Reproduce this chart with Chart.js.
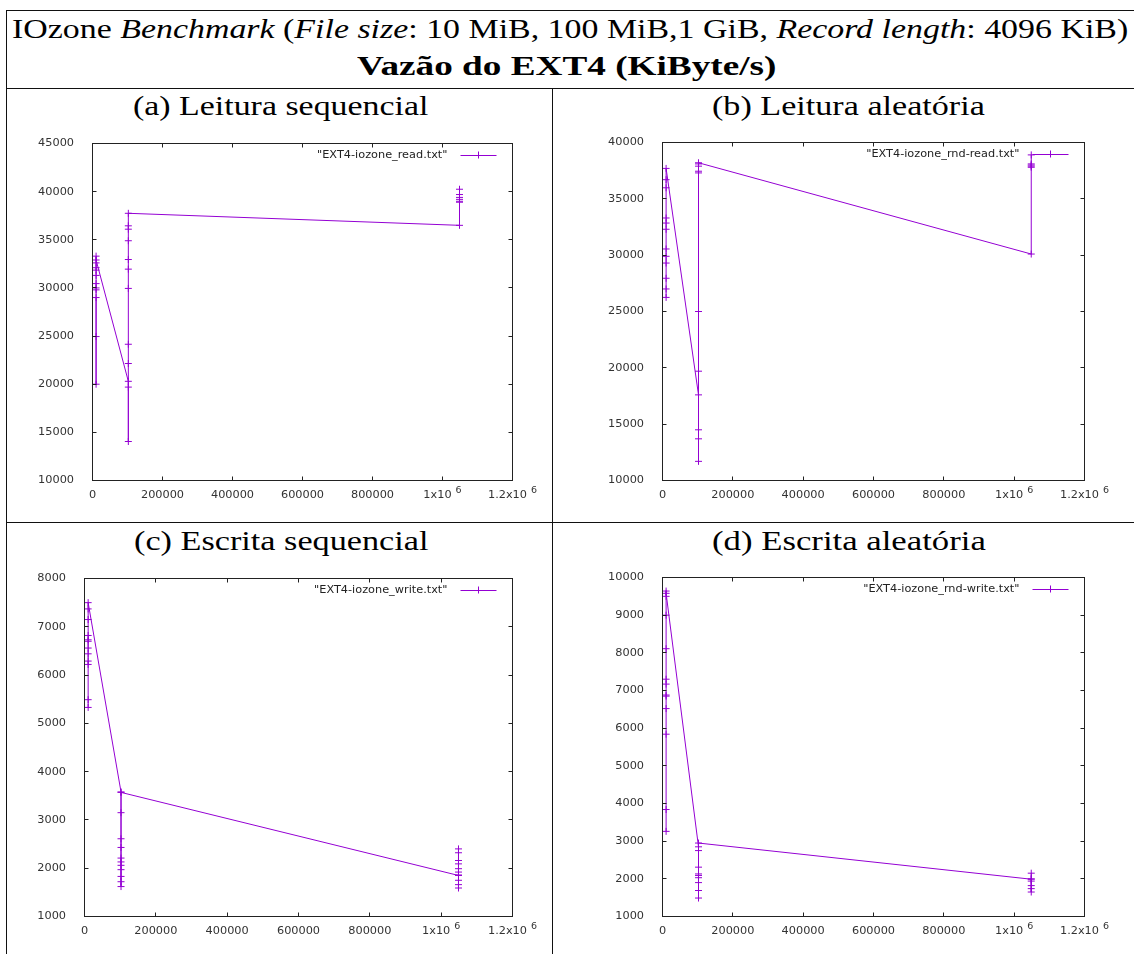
<!DOCTYPE html>
<html>
<head>
<meta charset="utf-8">
<script src="https://cdn.jsdelivr.net/npm/chart.js@4.4.1/dist/chart.umd.min.js"></script>
<style>
  html, body { margin: 0; padding: 0; background: #fff; }
  #page { position: relative; width: 1134px; height: 954px; overflow: hidden; background: #fff; }
  .rule { position: absolute; background: #111; }
  .tx { position: absolute; white-space: nowrap; font-family: "Liberation Serif", "DejaVu Serif", serif;
        font-size: 27px; line-height: 1; color: #000; transform-origin: 0 0; }
  .bl { display: inline-block; width: 0; height: 0; vertical-align: baseline; }
  canvas { position: absolute; }
</style>
</head>
<body>
<div id="page">
  <!-- linhas da tabela -->
  <div class="rule" style="left:6px;top:10px;width:1128px;height:1px"></div>
  <div class="rule" style="left:6px;top:10px;width:1px;height:944px"></div>
  <div class="rule" style="left:6px;top:88px;width:1128px;height:1px"></div>
  <div class="rule" style="left:6px;top:522px;width:1128px;height:1px"></div>
  <div class="rule" style="left:552px;top:88px;width:1px;height:866px"></div>

  <div class="tx" id="t1">IOzone <i>Benchmark</i> (<i>File size</i>: 10 MiB, 100 MiB,1 GiB, <i>Record length</i>: 4096 KiB)<span class="bl"></span></div>
  <div class="tx" id="t2"><b>Vazão do EXT4 (KiByte/s)</b><span class="bl"></span></div>
  <div class="tx" id="sa">(a) Leitura sequencial<span class="bl"></span></div>
  <div class="tx" id="sb">(b) Leitura aleatória<span class="bl"></span></div>
  <div class="tx" id="sc">(c) Escrita sequencial<span class="bl"></span></div>
  <div class="tx" id="sd">(d) Escrita aleatória<span class="bl"></span></div>

  <canvas id="cA" width="543" height="398" style="left:8px;top:122px"></canvas>
  <canvas id="cB" width="579" height="398" style="left:555px;top:122px"></canvas>
  <canvas id="cC" width="543" height="398" style="left:8px;top:556px"></canvas>
  <canvas id="cD" width="579" height="398" style="left:555px;top:556px"></canvas>
</div>

<script>
// tamanhos de arquivo (KiB): 10 MiB, 100 MiB, 1 GiB
const fileSizes = [10240, 102400, 1048576];
const xTicks = [0, 200000, 400000, 600000, 800000, 1000000, 1200000];

// (a) leitura sequencial - ordem das linhas do arquivo
const seqRead10M = [29000, 29800, 30000, 30450, 31300, 31850, 32100, 32600, 20000, 24950, 33300, 32900];
const seqRead100M = [20300, 14050, 19700, 22150, 24150, 29950, 31950, 32950, 34900, 36100, 36450, 37750];
const seqRead1G = [36500, 39200, 38900, 39400, 39700, 40250, 39000];
const seqReadTicks = [10000, 15000, 20000, 25000, 30000, 35000, 40000, 45000];

// (b) leitura aleatoria
const rndRead10M = [26250, 27000, 27950, 29300, 29900, 30550, 32300, 32850, 33300, 35980, 36700, 37700];
const rndRead100M = [17600, 11700, 13700, 14500, 19700, 25000, 37300, 37450, 37900, 38100, 38200];
const rndRead1G = [30100, 37800, 37900, 38000, 38100, 38900];
const rndReadTicks = [10000, 15000, 20000, 25000, 30000, 35000, 40000];

// (c) escrita sequencial
const seqWrite10M = [5330, 5490, 6220, 6290, 6440, 6560, 6700, 6730, 6820, 7150, 7370, 7500];
const seqWrite100M = [3580, 1620, 1720, 1830, 1970, 2060, 2130, 2210, 2430, 2610, 3150, 3570];
const seqWrite1G = [1850, 1590, 1660, 1750, 1920, 1990, 2090, 2160, 2320, 2400, 1860];
const seqWriteTicks = [1000, 2000, 3000, 4000, 5000, 6000, 7000, 8000];

// (d) escrita aleatoria
const rndWrite10M = [3260, 3840, 5840, 6520, 6850, 6880, 7170, 7300, 8110, 9000, 9500, 9640, 9580];
const rndWrite100M = [2850, 1490, 1690, 1900, 2030, 2090, 2130, 2310, 2750, 2950];
const rndWrite1G = [1990, 1650, 1740, 1820, 1940, 2000, 2150];
const rndWriteTicks = [1000, 2000, 3000, 4000, 5000, 6000, 7000, 8000, 9000, 10000];

const violet = '#9400d3';
const labelFont = '11.3px "DejaVu Sans"';

// coloca o texto centrado e ajusta a largura ao original
function placeText(id, cx, baseline, width) {
   const el = document.getElementById(id);
   const probe = el.querySelector('.bl');
   const k = width / el.offsetWidth;
   el.style.left = (cx - width / 2) + 'px';
   el.style.top = (baseline - probe.offsetTop) + 'px';
   el.style.transform = 'scaleX(' + k + ')';
}

placeText('t1', 570, 38, 1116);
placeText('t2', 566.5, 75, 419);
placeText('sa', 280.5, 115, 295);
placeText('sb', 848.5, 115, 273);
placeText('sc', 280.5, 550, 294);
placeText('sd', 849, 550, 274);

const toPoints = (groups) => groups.flatMap((vals, i) => vals.map(y => ({ x: fileSizes[i], y })));

// moldura estilo gnuplot: caixa, ticks para dentro, rotulos do eixo x e legenda
const gnuplotFrame = {
   id: 'gnuplotFrame',
   afterDraw(chart, args, opts) {
      const { ctx, chartArea: a } = chart;
      const xs = chart.scales.x, ys = chart.scales.y;
      const tl = 4;
      ctx.save();
      ctx.strokeStyle = '#222';
      ctx.lineWidth = 1;
      ctx.strokeRect(a.left, a.top, a.right - a.left, a.bottom - a.top);
      ctx.beginPath();
      xs.ticks.forEach(t => {
         const px = Math.floor(xs.getPixelForValue(t.value)) + 0.5;
         ctx.moveTo(px, a.bottom); ctx.lineTo(px, a.bottom - tl);
         ctx.moveTo(px, a.top); ctx.lineTo(px, a.top + tl);
      });
      ys.ticks.forEach(t => {
         const py = Math.floor(ys.getPixelForValue(t.value)) + 0.5;
         ctx.moveTo(a.left, py); ctx.lineTo(a.left + tl, py);
         ctx.moveTo(a.right, py); ctx.lineTo(a.right - tl, py);
      });
      ctx.stroke();

      // rotulos do eixo x (com expoente)
      ctx.fillStyle = '#333';
      ctx.textBaseline = 'middle';
      const ly = a.bottom + 14.5;
      xs.ticks.forEach(t => {
         const px = xs.getPixelForValue(t.value);
         ctx.font = labelFont;
         if (t.value < 1e6) {
            ctx.textAlign = 'center';
            ctx.fillText(String(t.value), px, ly);
         } else {
            const base = (t.value / 1e6) + 'x10';
            const w1 = ctx.measureText(base).width;
            ctx.font = '9.5px "DejaVu Sans"';
            const w2 = ctx.measureText('6').width;
            const x0 = px - (w1 + 4 + w2) / 2;
            ctx.textAlign = 'left';
            ctx.font = labelFont;
            ctx.fillText(base, x0, ly);
            ctx.font = '9.5px "DejaVu Sans"';
            ctx.fillText('6', x0 + w1 + 4, ly - 4.5);
         }
      });

      // legenda
      const legY = a.top + 11.5;
      ctx.font = labelFont;
      ctx.textAlign = 'right';
      ctx.fillStyle = '#222';
      ctx.fillText(opts.label, a.right - 65, legY);
      ctx.strokeStyle = violet;
      ctx.beginPath();
      ctx.moveTo(a.right - 52, Math.floor(legY) + 0.5);
      ctx.lineTo(a.right - 16, Math.floor(legY) + 0.5);
      const cx = Math.floor(a.right - 34) + 0.5;
      ctx.moveTo(cx, legY - 3.5);
      ctx.lineTo(cx, legY + 3.5);
      ctx.stroke();
      ctx.restore();
   }
};

function makePlot(canvasId, canvasBox, plot, legendLabel, groups, yTicks) {
   const yW = plot.l - canvasBox.left;
   const xH = canvasBox.top + canvasBox.height - plot.b;
   return new Chart(document.getElementById(canvasId), {
      type: 'scatter',
      data: {
         datasets: [{
            label: legendLabel,
            data: toPoints(groups),
            showLine: true,
            borderColor: violet,
            backgroundColor: violet,
            borderWidth: 1,
            pointStyle: 'cross',
            pointRadius: 3.5,
            pointBorderWidth: 1,
            pointBorderColor: violet,
            pointHoverRadius: 3.5,
            tension: 0,
         }],
      },
      options: {
         responsive: false,
         animation: false,
         devicePixelRatio: 1,
         layout: {
            padding: {
               left: 0,
               top: plot.t - canvasBox.top,
               right: canvasBox.left + canvasBox.width - plot.r,
               bottom: 0,
            },
         },
         plugins: {
            legend: { display: false },
            tooltip: { enabled: false },
            gnuplotFrame: { label: legendLabel },
         },
         scales: {
            x: {
               type: 'linear',
               min: 0,
               max: 1200000,
               grid: { display: false },
               border: { display: false },
               ticks: { display: false },
               afterBuildTicks: s => { s.ticks = xTicks.map(v => ({ value: v })); },
               afterFit: s => { s.height = xH; },
            },
            y: {
               type: 'linear',
               min: yTicks[0],
               max: yTicks[yTicks.length - 1],
               grid: { display: false },
               border: { display: false },
               ticks: {
                  color: '#333',
                  padding: 10.5,
                  font: { family: 'DejaVu Sans', size: 11.3 },
                  callback: v => String(v),
               },
               afterBuildTicks: s => { s.ticks = yTicks.map(v => ({ value: v })); },
               afterFit: s => { s.width = yW; },
            },
         },
      },
      plugins: [gnuplotFrame],
   });
}

makePlot('cA', { left: 8, top: 122, width: 543, height: 398 },
   { l: 92.5, t: 143.5, r: 512.5, b: 480.5 },
   '"EXT4-iozone_read.txt"', [seqRead10M, seqRead100M, seqRead1G], seqReadTicks);

makePlot('cB', { left: 555, top: 122, width: 579, height: 398 },
   { l: 662.5, t: 142.5, r: 1084.5, b: 480.5 },
   '"EXT4-iozone_rnd-read.txt"', [rndRead10M, rndRead100M, rndRead1G], rndReadTicks);

makePlot('cC', { left: 8, top: 556, width: 543, height: 398 },
   { l: 84.5, t: 578.5, r: 512.5, b: 916.5 },
   '"EXT4-iozone_write.txt"', [seqWrite10M, seqWrite100M, seqWrite1G], seqWriteTicks);

makePlot('cD', { left: 555, top: 556, width: 579, height: 398 },
   { l: 662.5, t: 577.5, r: 1084.5, b: 916.5 },
   '"EXT4-iozone_rnd-write.txt"', [rndWrite10M, rndWrite100M, rndWrite1G], rndWriteTicks);
</script>
</body>
</html>
